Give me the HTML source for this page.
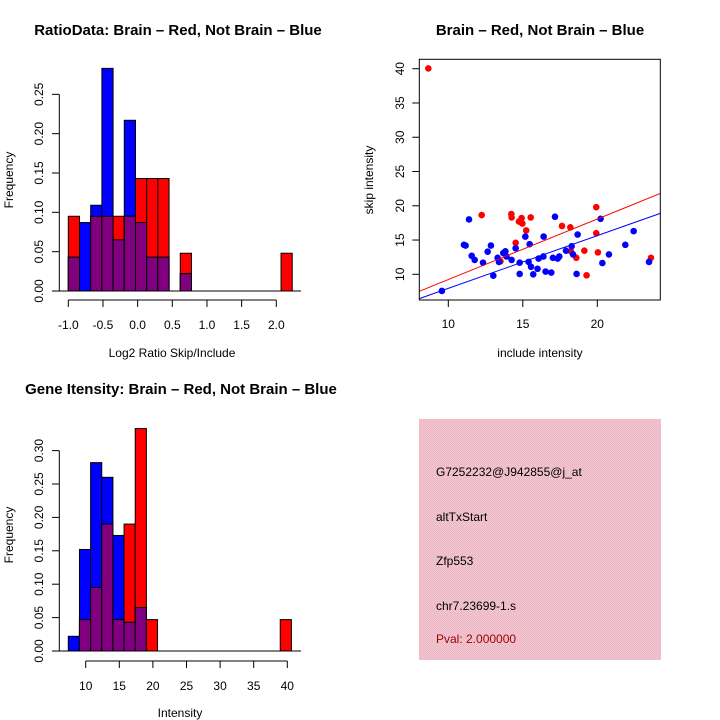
<!DOCTYPE html>
<html><head><meta charset="utf-8"><style>
body{margin:0;background:#fff}
svg{display:block;font-family:"Liberation Sans",Arial,sans-serif}
</style></head><body>
<svg id="c" width="720" height="720" viewBox="0 0 720 720" xmlns="http://www.w3.org/2000/svg">
<rect width="720" height="720" fill="#fff"/>
<defs><pattern id="pk" width="2" height="2" patternUnits="userSpaceOnUse"><rect width="2" height="2" fill="#f5c6d2"/><rect width="1" height="1" fill="#e8b8c4"/><rect x="1" y="1" width="1" height="1" fill="#e8b8c4"/></pattern></defs>
<text x="178" y="35" font-size="15" font-weight="bold" text-anchor="middle">RatioData: Brain – Red, Not Brain – Blue</text>
<text x="540" y="35" font-size="15" font-weight="bold" text-anchor="middle">Brain – Red, Not Brain – Blue</text>
<text x="181" y="394" font-size="15" font-weight="bold" text-anchor="middle">Gene Itensity: Brain – Red, Not Brain – Blue</text>
<text x="172" y="357" font-size="12" text-anchor="middle">Log2 Ratio Skip/Include</text>
<text transform="translate(13,180) rotate(-90)" font-size="12" text-anchor="middle">Frequency</text>
<text x="540" y="357" font-size="12" text-anchor="middle">include intensity</text>
<text transform="translate(373,180) rotate(-90)" font-size="12" text-anchor="middle">skip intensity</text>
<text x="180" y="717" font-size="12" text-anchor="middle">Intensity</text>
<text transform="translate(13,535) rotate(-90)" font-size="12" text-anchor="middle">Frequency</text>
<g>
<rect x="419" y="419" width="242" height="241" fill="url(#pk)"/>
<text x="436" y="476" font-size="12">G7252232@J942855@j_at</text>
<text x="436" y="521" font-size="12">altTxStart</text>
<text x="436" y="565" font-size="12">Zfp553</text>
<text x="436" y="610" font-size="12">chr7.23699-1.s</text>
<text x="436" y="643" font-size="12" fill="#a00000">Pval: 2.000000</text>
</g>
</svg>
<script>
// Ratio histogram data
const ratioStart = -1.0, ratioBinW = 0.1615;
const ratioBlue = [0.043,0.087,0.109,0.283,0.065,0.217,0.087,0.043,0.043,0,0.022,0,0,0,0,0,0,0,0,0];
const ratioRed  = [0.095,0,0.095,0.095,0.095,0.095,0.143,0.143,0.143,0,0.048,0,0,0,0,0,0,0,0,0.048];
const ratioXTicks = ["-1.0","-0.5","0.0","0.5","1.0","1.5","2.0"];
const ratioYTicks = ["0.00","0.05","0.10","0.15","0.20","0.25"];
// Intensity histogram data
const intStart = 7.41, intBinW = 1.66;
const intBlue = [0.022,0.152,0.282,0.26,0.173,0.043,0.065,0,0,0,0,0,0,0,0,0,0,0,0,0];
const intRed  = [0,0.047,0.095,0.19,0.047,0.19,0.333,0.047,0,0,0,0,0,0,0,0,0,0,0,0.047];
const intXTicks = ["10","15","20","25","30","35","40"];
const intYTicks = ["0.00","0.05","0.10","0.15","0.20","0.25","0.30"];
// Scatter data
const redX = [8.66,12.24,14.23,14.25,14.92,14.74,14.97,15.53,15.23,14.52,13.5,17.63,18.19,19.93,19.93,20.04,18.23,19.13,18.59,19.28,23.6];
const redY = [40.04,18.65,18.8,18.3,18.2,17.7,17.4,18.3,16.4,14.6,11.9,17.05,16.85,19.8,16.0,13.2,13.35,13.45,12.4,9.85,12.4];
const blueX = [9.57,11.39,11.05,11.16,11.57,11.77,12.33,12.64,12.86,13.02,13.31,13.4,13.69,13.83,13.91,14.25,14.52,14.79,14.79,15.17,15.46,15.39,15.55,15.7,15.99,16.06,16.38,16.4,16.53,16.91,17.02,17.16,17.34,17.45,17.9,18.28,18.37,18.61,18.68,20.22,20.34,20.78,21.88,22.44,23.47];
const blueY = [7.57,18.0,14.3,14.2,12.7,12.1,11.7,13.3,14.2,9.8,12.4,11.8,13.1,13.35,12.6,12.1,13.8,11.7,10.05,15.5,14.4,11.8,11.1,10.0,10.8,12.3,12.6,15.5,10.4,10.25,12.4,18.4,12.3,12.6,13.45,14.1,12.9,10.05,15.8,18.1,11.65,12.9,14.3,16.3,11.8];
const redFit = [0.41,0.883];
const blueFit = [0.26,0.769];
const scXTicks = ["10","15","20"];
const scYTicks = ["10","15","20","25","30","35","40"];

const svg = document.getElementById('c');
const NS = 'http://www.w3.org/2000/svg';
function mk(tag, a, parent){const e=document.createElementNS(NS,tag);for(const k in a)e.setAttribute(k,a[k]);(parent||svg).appendChild(e);return e;}

function hist(name, start, bw, blue, red, xs, ys, xt, yt, x0, y0, xOrigin, yOrigin, xTickVal0, xTickStep, yTickStep, baseY){
  const g = mk('g',{});
  
  
  const X = v => xOrigin + (v - xTickVal0) * xs;
  const Y = v => yOrigin - v * ys;
  for (let i=0;i<blue.length;i++){
    const l = X(start + i*bw), w = bw*xs;
    const b = blue[i], r = red[i], m = Math.min(b,r);
    const order = b>=r ? [['blue',b],['red',r]] : [['red',r],['blue',b]];
    for (const [col,v] of order){
      if (v<=0) continue;
      const e = mk('rect',{x:l,y:Y(v),width:w,height:v*ys,fill:col==='blue'?'#0000ff':'#ff0000',stroke:'#000','stroke-width':1},g);
      
      
    }
    if (m>0){
      const e = mk('rect',{x:l,y:Y(m),width:w,height:m*ys,fill:'#800080',stroke:'#000','stroke-width':1},g);
      
      
    }
  }
  mk('line',{x1:52,x2:301,y1:yOrigin,y2:yOrigin,stroke:'#000'},g);
  const xa0 = X(xTickVal0), xa1 = X(xTickVal0 + (xt.length-1)*xTickStep);
  mk('line',{x1:xa0,x2:xa1,y1:baseY,y2:baseY,stroke:'#000'},g);
  xt.forEach((t,i)=>{
    const x = X(xTickVal0 + i*xTickStep);
    mk('line',{x1:x,x2:x,y1:baseY,y2:baseY+7,stroke:'#000'},g);
    const e = mk('text',{x:x,y:baseY+29,'font-size':12,'text-anchor':'middle'},g);
    e.textContent = t;
    
    
  });
  mk('line',{x1:59.3,x2:59.3,y1:Y(0),y2:Y((yt.length-1)*yTickStep),stroke:'#000'},g);
  yt.forEach((t,i)=>{
    const y = Y(i*yTickStep);
    mk('line',{x1:52,x2:59.3,y1:y,y2:y,stroke:'#000'},g);
    const e = mk('text',{transform:`translate(43,${y}) rotate(-90)`,'font-size':12,'text-anchor':'middle'},g);
    e.textContent = t;
    
    
  });
}
hist('ratio-histogram', ratioStart, ratioBinW, ratioBlue, ratioRed, 69.33, 786.7, ratioXTicks, ratioYTicks, 0,0, 68.3, 291, -1.0, 0.5, 0.05, 300);
hist('intensity-histogram', intStart, intBinW, intBlue, intRed, 6.72, 668, intXTicks, intYTicks, 0,0, 85.7, 651, 10, 5, 0.05, 661);

const sg = mk('g',{});


const SX = v => 448.3 + (v-10)*14.9;
const SY = v => 274.3 - (v-10)*6.853;
const L=419.3,R=660.3,T=59.3,B=300;
const clip = mk('clipPath',{id:'sc'},sg); mk('rect',{x:L,y:T,width:R-L,height:B-T},clip);
function fit(f,col,nm){
  const xa=(L-448.3)/14.9+10, xb=(R-448.3)/14.9+10;
  const e = mk('line',{x1:SX(xa),y1:SY(f[0]+f[1]*xa),x2:SX(xb),y2:SY(f[0]+f[1]*xb),stroke:col,'stroke-width':1,'clip-path':'url(#sc)'},sg);
  
  
}
redX.forEach((x,i)=>{
  const e = mk('circle',{cx:SX(x),cy:SY(redY[i]),r:3.3,fill:'#ff0000'},sg);
  
  
});
blueX.forEach((x,i)=>{
  const e = mk('circle',{cx:SX(x),cy:SY(blueY[i]),r:3.3,fill:'#0000ff'},sg);
  
  
});
fit(redFit,'#ff0000','brain-fit-line');
fit(blueFit,'#0000ff','not-brain-fit-line');
mk('rect',{x:L,y:T,width:R-L,height:B-T,fill:'none',stroke:'#000'},sg);
scXTicks.forEach(t=>{
  const x = SX(+t);
  mk('line',{x1:x,x2:x,y1:B,y2:B+7,stroke:'#000'},sg);
  const e = mk('text',{x:x,y:B+28,'font-size':12,'text-anchor':'middle'},sg);
  e.textContent = t;
  
  
});
scYTicks.forEach(t=>{
  const y = SY(+t);
  mk('line',{x1:L-7,x2:L,y1:y,y2:y,stroke:'#000'},sg);
  const e = mk('text',{transform:`translate(404,${y}) rotate(-90)`,'font-size':12,'text-anchor':'middle'},sg);
  e.textContent = t;
  
  
});
</script>
</body></html>
